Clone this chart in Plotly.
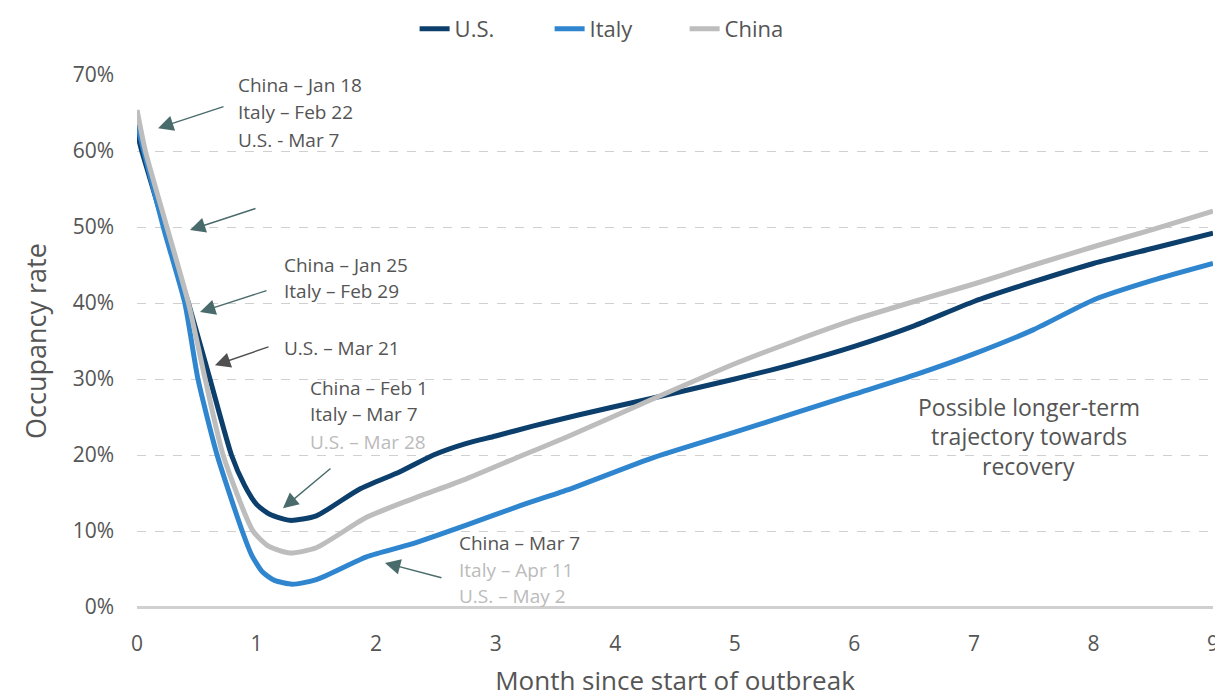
import plotly.graph_objects as go

us_x = [0, 0.04, 0.25, 0.43, 0.61, 0.79, 0.9, 1.0, 1.11, 1.28, 1.5, 1.86, 2.2, 2.48, 2.75, 3.0, 3.31, 3.7, 4.29, 5, 5.5, 6, 6.5, 7, 7.5, 8, 8.5, 9]
us = [62.5, 60, 49, 40, 30, 20, 16, 13.5, 12.2, 11.4, 12, 15.5, 17.8, 20.0, 21.5, 22.5, 23.8, 25.3, 27.4, 30, 32, 34.3, 37, 40.2, 42.8, 45.2, 47.2, 49.2]
italy_x = [0, 0.22, 0.40, 0.51, 0.67, 0.88, 0.96, 1.05, 1.15, 1.3, 1.5, 1.92, 2.3, 2.76, 3.2, 3.6, 4.29, 5, 5.5, 6, 6.5, 7, 7.5, 8, 8.5, 9]
italy = [63.5, 50, 40, 30, 20, 10, 6.8, 4.6, 3.5, 3.0, 3.6, 6.6, 8.3, 10.8, 13.3, 15.4, 19.5, 23, 25.5, 28, 30.5, 33.3, 36.5, 40.4, 43, 45.2]
china_x = [0, 0.07, 0.25, 0.43, 0.57, 0.72, 0.97, 1.1, 1.28, 1.5, 1.92, 2.3, 2.76, 3.2, 3.6, 4.29, 5, 5.5, 6, 6.5, 7, 7.5, 8, 8.5, 9]
china = [65.4, 60, 50, 40, 30, 20, 10, 8.0, 7.1, 7.8, 11.8, 14.2, 16.9, 19.8, 22.4, 27.2, 32, 35, 37.8, 40.2, 42.5, 45, 47.4, 49.7, 52.1]

x_ticks = [0, 1, 2, 3, 4, 5, 6, 7, 8, 9]
y_ticks = [0, 10, 20, 30, 40, 50, 60, 70]
y_tick_labels = ["0%", "10%", "20%", "30%", "40%", "50%", "60%", "70%"]

# annotation text lines: (text, x, y, dark?)
label_lines = [
    ("China – Jan 18", 0.83, 68.7, True),
    ("Italy – Feb 22", 0.83, 65.1, True),
    ("U.S. - Mar 7", 0.83, 61.4, True),
    ("China – Jan 25", 1.21, 45.0, True),
    ("Italy – Feb 29", 1.21, 41.6, True),
    ("U.S. – Mar 21", 1.21, 34.1, True),
    ("China – Feb 1", 1.43, 28.8, True),
    ("Italy – Mar 7", 1.43, 25.4, True),
    ("U.S. – Mar 28", 1.43, 21.7, False),
    ("China – Mar 7", 2.68, 8.4, True),
    ("Italy – Apr 11", 2.68, 4.9, False),
    ("U.S. – May 2", 2.68, 1.45, False),
]
# arrows: (tail_x, tail_y, head_x, head_y, colour)
arrows = [
    (0.736, 65.9, 0.176, 63.0, "#4a6b6b"),
    (1.004, 52.5, 0.443, 49.6, "#4a6b6b"),
    (1.096, 41.7, 0.527, 38.8, "#4a6b6b"),
    (1.112, 34.3, 0.652, 31.8, "#505050"),
    (1.631, 18.4, 1.221, 13.0, "#4a6b6b"),
    (2.559, 3.8, 2.074, 5.8, "#4a6b6b"),
]
recovery_lines = ["Possible longer-term", "trajectory towards", "recovery"]
recovery_y = [26.3, 22.5, 18.6]
recovery_x = 7.46

FONT = "Open Sans"
fig = go.Figure()
for name, xs, ys, col in [("U.S.", us_x, us, "#0c3f6c"), ("Italy", italy_x, italy, "#2f86cf"),
                          ("China", china_x, china, "#bdbdbd")]:
    fig.add_trace(go.Scatter(x=xs, y=ys, name=name, mode="lines",
                             line=dict(color=col, width=5, shape="spline", smoothing=0.6)))

anns = []
for t, x, y, dark in label_lines:
    anns.append(dict(x=x, y=y, xref="x", yref="y", text=t, showarrow=False,
                     xanchor="left", yanchor="middle",
                     font=dict(family=FONT, size=19, color="#555555" if dark else "#bbbbbb")))
for tx, ty, hx, hy, col in arrows:
    anns.append(dict(x=hx, y=hy, ax=tx, ay=ty, xref="x", yref="y", axref="x", ayref="y",
                     text="", showarrow=True, arrowhead=2, arrowsize=2.2, arrowwidth=1.4,
                     arrowcolor=col))
for t, y in zip(recovery_lines, recovery_y):
    anns.append(dict(x=recovery_x, y=y, xref="x", yref="y", text=t, showarrow=False,
                     xanchor="center", yanchor="middle",
                     font=dict(family=FONT, size=23, color="#555555")))

fig.update_layout(
    width=1215, height=690,
    margin=dict(l=129, r=10, t=67, b=91, autoexpand=False),
    paper_bgcolor="white", plot_bgcolor="white",
    font=dict(family=FONT, color="#555555"),
    legend=dict(orientation="h", x=0.258, xanchor="left", y=1.0, yref="container", yanchor="top",
                font=dict(family=FONT, size=22, color="#555555"), entrywidth=90,
                tracegroupgap=0),
    annotations=anns,
    xaxis=dict(range=[0, 9], tickvals=x_ticks, showgrid=False, zeroline=False,
               showline=False, ticklabelstandoff=22, automargin=False,
               tickfont=dict(family=FONT, size=21, color="#555555"),
               title=dict(text="Month since start of outbreak", standoff=34,
                          font=dict(family=FONT, size=26, color="#555555"))),
    yaxis=dict(range=[0, 70], tickvals=y_ticks, ticktext=y_tick_labels,
               showgrid=True, gridcolor="#d0d0d0", griddash="dash", gridwidth=1.2,
               zeroline=True, zerolinecolor="#d0d0d0", zerolinewidth=3,
               ticklabelstandoff=22, automargin=False,
               tickfont=dict(family=FONT, size=21, color="#555555"),
               title=dict(text="Occupancy rate", standoff=18,
                          font=dict(family=FONT, size=27, color="#555555"))),
)
fig.write_html("out.html")
